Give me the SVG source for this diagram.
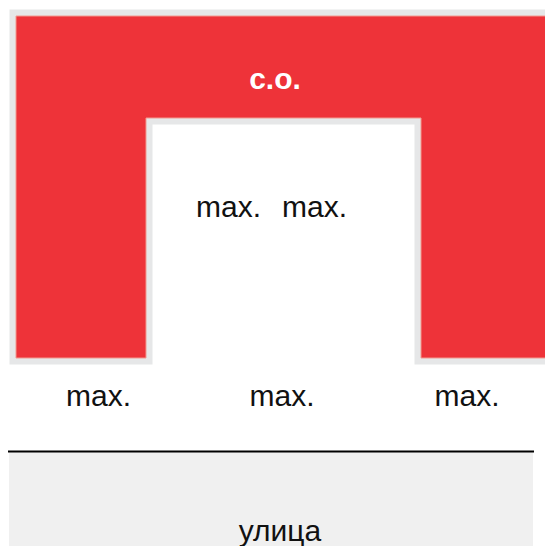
<svg xmlns="http://www.w3.org/2000/svg" width="545" height="546" viewBox="0 0 545 546">
<style>
.t{font-family:"Liberation Sans",Arial,sans-serif;font-size:30px;fill:#111;text-anchor:middle}
.b{font-weight:bold;fill:#fff}
</style>
<rect width="545" height="546" fill="#fff"/>
<g id="building">
<path d="M16,16 H560 V358 H421 V118 H146 V358 H16 Z" fill="none" stroke="#e6e7e8" stroke-width="13" stroke-linejoin="miter"/>
<path d="M16,16 H560 V358 H421 V118 H146 V358 H16 Z" fill="#ee3339" stroke="#f29a90" stroke-width="1"/>
<text class="t b" x="275" y="89">с.о.</text>
</g>
<g id="inner">
<text class="t" x="228.5" y="217">max.</text>
<text class="t" x="314.5" y="217">max.</text>
</g>
<g id="front">
<text class="t" x="98.5" y="406">max.</text>
<text class="t" x="282" y="406">max.</text>
<text class="t" x="467" y="406">max.</text>
</g>
<g id="street">
<rect x="9" y="452" width="524" height="94" fill="#f0f0f0"/>
<line x1="8" y1="451.5" x2="534" y2="451.5" stroke="#000" stroke-width="2"/>
<text class="t" x="280" y="541">улица</text>
</g>
</svg>
